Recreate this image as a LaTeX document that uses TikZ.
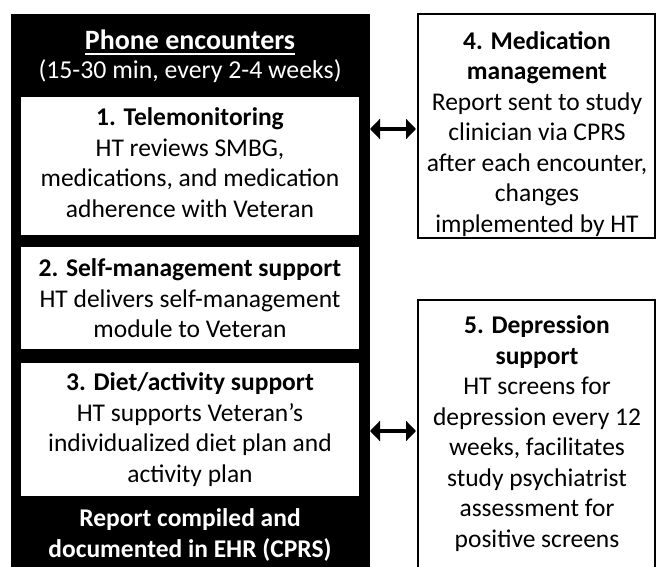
\documentclass[tikz,border=0pt]{standalone}
\usepackage{fontspec}
\setmainfont{Carlito}
\usetikzlibrary{arrows.meta}
\begin{document}
\begin{tikzpicture}[x=1pt,y=-1pt,
  every node/.style={inner sep=0pt, outer sep=0pt},
  txt/.style={align=center, font=\fontsize{25.5}{30.5}\selectfont},
  wtxt/.style={txt, text=white, font=\fontsize{25.5}{30.5}\selectfont\bfseries},
  whitebox/.style={fill=white, anchor=north west, minimum width=338pt},
  sidebox/.style={draw=black, line width=2pt, fill=white, anchor=north west, minimum width=237pt},
  link/.style={line width=4pt, {Triangle[length=10pt,width=20pt]}-{Triangle[length=10pt,width=20pt]}, shorten >=2pt}
]
\clip (0,0) rectangle (657,567);
\fill[white] (0,0) rectangle (657,567);
% left black panel
\node[fill=black, anchor=north west, minimum width=359pt, minimum height=600pt] (outer) at (11,14) {};
\node[whitebox, minimum height=138pt] (b1) at (21,97) {};
\node[whitebox, minimum height=102pt] (b2) at (21,247) {};
\node[whitebox, minimum height=133pt] (b3) at (21,363) {};
\node[anchor=base, text=white, font=\fontsize{28}{30}\selectfont\bfseries] (title) at (190,50) {Phone encounters};
\draw[white, line width=2pt] ([yshift=-4.5pt]title.base west) -- ([yshift=-4.5pt]title.base east);
\node[anchor=base, text=white, font=\fontsize{25.8}{30}\selectfont] (sub) at (190,78.5) {(15-30 min, every 2-4 weeks)};
\node[txt] (t1) at (190,162.5) {\textbf{1. Telemonitoring}\\HT reviews SMBG,\\medications, and medication\\adherence with Veteran};
\node[txt] (t2) at (190,298.5) {\textbf{2. Self-management support}\\HT delivers self-management\\module to Veteran};
\node[txt] (t3) at (190,429.5) {\textbf{3. Diet/activity support}\\HT supports Veteran’s\\individualized diet plan and\\activity plan};
\node[wtxt] (rep) at (190,535) {Report compiled and\\documented in EHR (CPRS)};
% right boxes
\node[sidebox, minimum height=224pt] (b4) at (418,14) {};
\node[sidebox, minimum height=300pt] (b5) at (418,300) {};
\node[txt] (t4) at (537,134) {\textbf{4. Medication}\\\textbf{management}\\Report sent to study\\clinician via CPRS\\after each encounter,\\changes\\implemented by HT};
\node[txt] (t5) at (537,433.5) {\textbf{5. Depression}\\\textbf{support}\\HT screens for\\depression every 12\\weeks, facilitates\\study psychiatrist\\assessment for\\positive screens};
% connectors
\draw[link] ([yshift=-3pt]outer.east |- b4.west) -- ([yshift=-3pt]b4.west);
\draw[link] ([yshift=-1.5pt]outer.east |- b3.east) -- ([yshift=-1.5pt]b5.west |- b3.east);
\end{tikzpicture}
\end{document}
